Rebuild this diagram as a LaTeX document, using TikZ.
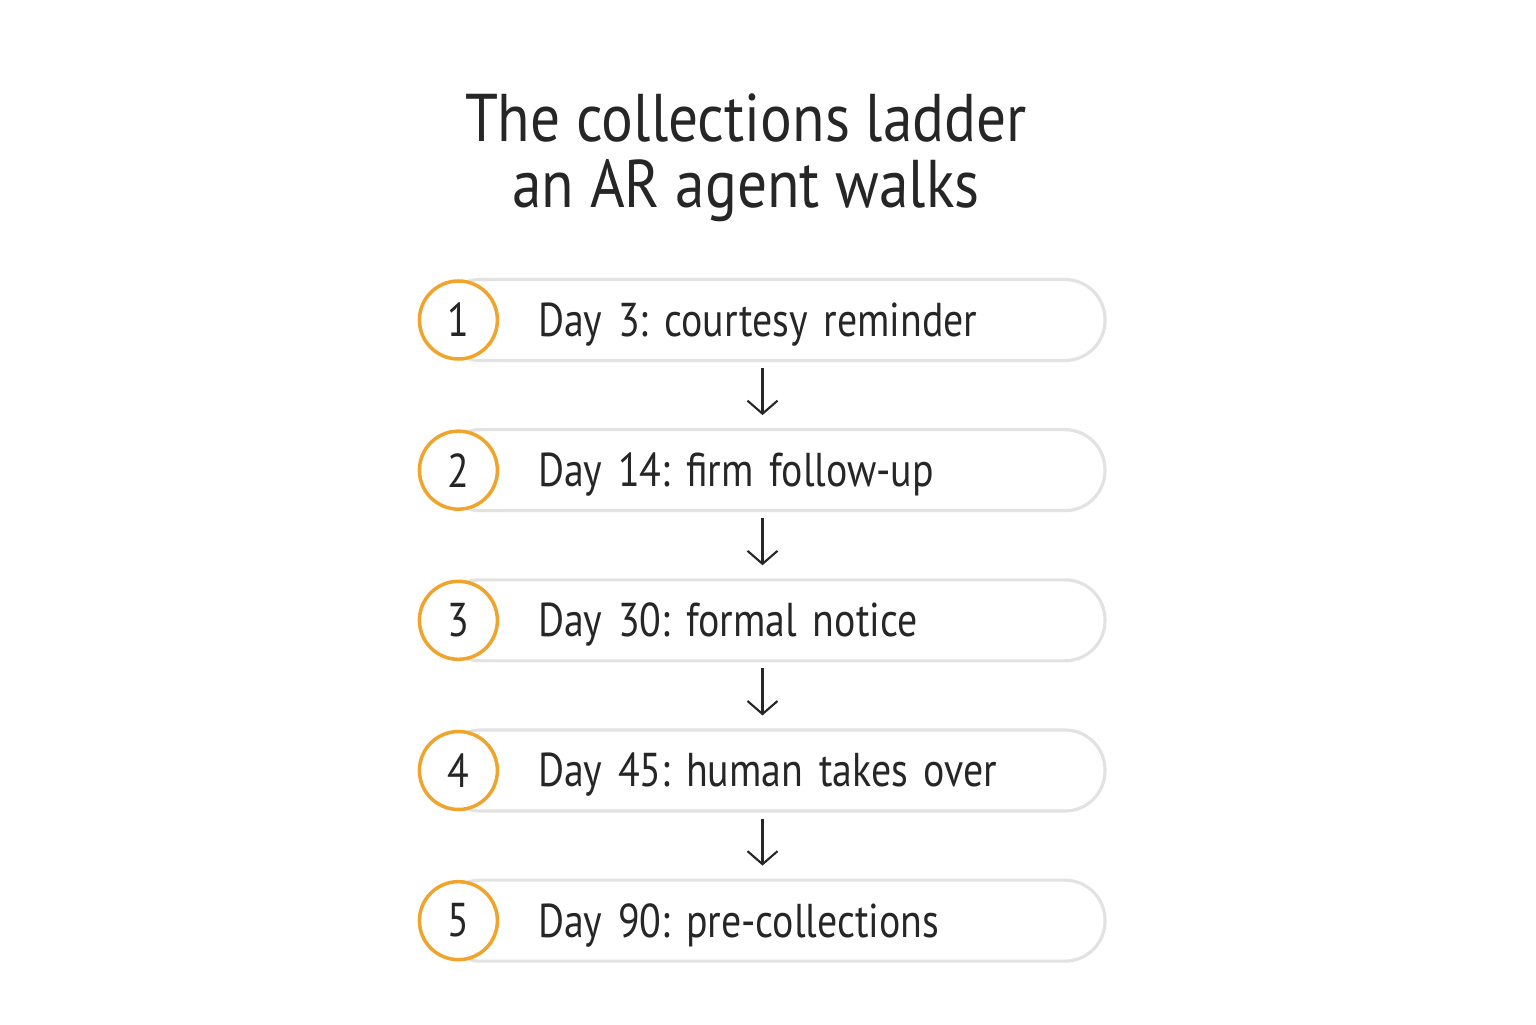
\documentclass[tikz,border=0pt]{standalone}
\usepackage{fontspec}
\setmainfont{PT Sans}[FakeStretch=0.88]
\newfontfamily\labelfont{PT Sans}[FakeStretch=0.84]
\frenchspacing
\usetikzlibrary{positioning,arrows.meta}
\definecolor{ladderorange}{HTML}{F0A42C}
\definecolor{pillgray}{HTML}{E2E2E2}
\definecolor{inkgray}{HTML}{262626}
\begin{document}
\begin{tikzpicture}[
  pill/.style={rectangle, draw=pillgray, line width=0.9pt, fill=white, rounded corners=0.4cm,
    minimum height=0.81cm, inner xsep=0pt, inner ysep=0pt, text width=6.65cm, align=left,
    text height=0.40cm, text depth=0.07cm,
    execute at begin node=\hspace*{0.98cm},
    text=inkgray, font=\labelfont\fontsize{13.5}{16}\selectfont},
  badge/.style={circle, draw=ladderorange, line width=1pt, fill=white, minimum size=0.78cm, inner sep=0pt,
    text=inkgray, font=\labelfont\fontsize{13.5}{16}\selectfont},
  arr/.style={-{Straight Barb[length=0.13cm,width=0.3cm]}, line width=0.6pt, inkgray},
  node distance=0.66cm
]
\useasboundingbox (0,0) rectangle (15.36,10.24);
\node[align=center, text=inkgray, font=\fontsize{19.2}{18.8}\selectfont] (title) at (7.46,8.66) {The collections ladder\\an AR agent walks};

\node[pill] (step1) at (7.725,7.04) {Day 3: courtesy reminder};
\node[pill, below=of step1] (step2) {Day 14: firm follow-up};
\node[pill, below=of step2] (step3) {Day 30: formal notice};
\node[pill, below=of step3] (step4) {Day 45: human takes over};
\node[pill, below=of step4] (step5) {Day 90: pre-collections};

\node[badge] (num1) at ([xshift=0.2cm]step1.west) {1};
\node[badge] (num2) at ([xshift=0.2cm]step2.west) {2};
\node[badge] (num3) at ([xshift=0.2cm]step3.west) {3};
\node[badge] (num4) at ([xshift=0.2cm]step4.west) {4};
\node[badge] (num5) at ([xshift=0.2cm]step5.west) {5};

\draw[arr] ([xshift=-0.1cm,yshift=-0.06cm]step1.south) -- ([xshift=-0.1cm,yshift=0.13cm]step2.north);
\draw[arr] ([xshift=-0.1cm,yshift=-0.06cm]step2.south) -- ([xshift=-0.1cm,yshift=0.13cm]step3.north);
\draw[arr] ([xshift=-0.1cm,yshift=-0.06cm]step3.south) -- ([xshift=-0.1cm,yshift=0.13cm]step4.north);
\draw[arr] ([xshift=-0.1cm,yshift=-0.06cm]step4.south) -- ([xshift=-0.1cm,yshift=0.13cm]step5.north);
\end{tikzpicture}
\end{document}
